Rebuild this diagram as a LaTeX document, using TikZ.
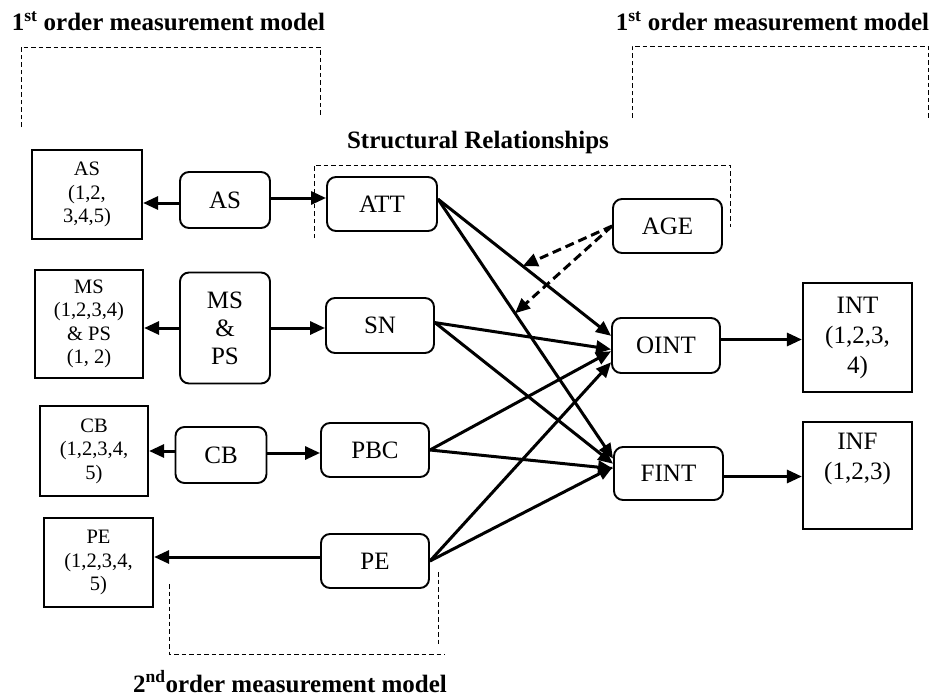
\documentclass[tikz,border=0pt]{standalone}
\usepackage{fontspec}
\setmainfont{Liberation Serif}
\usetikzlibrary{arrows.meta,calc}

\begin{document}
\begin{tikzpicture}[x=1pt,y=-1pt,
  box/.style={draw, line width=2.2pt, inner sep=0pt, align=center,
    font=\fontsize{20.5}{23.5}\selectfont},
  bigbox/.style={box, font=\fontsize{25}{30}\selectfont},
  rnd/.style={draw, line width=1.9pt, rounded corners=9pt, inner sep=0pt,
    align=center, font=\fontsize{25}{28}\selectfont,
    minimum width=108pt, minimum height=55pt},
  conn/.style={line width=3pt, -{Triangle[length=15pt,width=13pt]}},
  modconn/.style={conn, dash pattern=on 9pt off 5pt},
  bracket/.style={line width=0.8pt, dash pattern=on 4.5pt off 3pt},
  title/.style={font=\fontsize{25}{28}\selectfont\bfseries, inner sep=0pt, anchor=base}
]
\useasboundingbox (0,0) rectangle (936,698);

% headings
\node[title] (t1) at (168.5,31) {1\textsuperscript{st} order measurement model};
\node[title] (t2) at (772.5,31) {1\textsuperscript{st} order measurement model};
\node[title] (t3) at (478,148) {Structural Relationships};
\node[title] (t4) at (290,692) {2\textsuperscript{nd}order measurement model};

% dashed brackets
\draw[bracket] (21,127) -- (21,47) -- (320,47) -- (320,118);
\draw[bracket] (632,118) -- (632,46) -- (928,46) -- (928,118);
\draw[bracket] (314,238) -- (314,165) -- (730,165) -- (730,227);
\draw[bracket] (169,584) -- (169,654) -- (445,654);
\draw[bracket] (438,572) -- (438,645);

% indicator boxes
\node[box, minimum width=110pt, minimum height=89pt] (ASb) at (87,194.5) {AS\\(1,2,\\3,4,5)};
\node[box, minimum width=108pt, minimum height=108pt] (MSb) at (89,324) {MS\\(1,2,3,4)\\\&{} PS\\(1, 2)};
\node[box, minimum width=108pt, minimum height=90pt] (CBb) at (94,451) {CB\\(1,2,3,4,\\5)};
\node[box, minimum width=109pt, minimum height=89pt] (PEb) at (98.5,562.5) {PE\\(1,2,3,4,\\5)};
\node[bigbox, minimum width=109pt, minimum height=109pt] (INTb) at (857.5,337.5) {INT\\(1,2,3,\\4)};
\node[bigbox, minimum width=109pt, minimum height=107pt] (INFb) at (857.5,475.5) {INF\\(1,2,3)\\\strut};

% latent constructs
\node[rnd, minimum width=90pt, minimum height=56pt] (ASr) at (225,200) {AS};
\node[rnd, minimum width=90pt, minimum height=111pt] (MSr) at (225,328) {MS\\\&\\PS};
\node[rnd, minimum width=91pt, minimum height=56pt] (CBr) at (221,455) {CB};
\node[rnd, minimum width=110pt, minimum height=54pt] (ATT) at (382,204) {ATT};
\node[rnd] (SN) at (380,325.5) {SN};
\node[rnd, minimum height=54pt] (PBC) at (375,450) {PBC};
\node[rnd, minimum height=54pt] (PE) at (375,561) {PE};
\node[rnd, minimum width=109pt, minimum height=54pt] (AGE) at (667.5,226) {AGE};
\node[rnd] (OINT) at (666,345.5) {OINT};
\node[rnd, minimum width=109pt, minimum height=53pt] (FINT) at (668.5,473.5) {FINT};

% measurement links
\draw[conn] ([yshift=-3pt]ASr.west) -- ([yshift=-3pt]ASr.west -| ASb.east);
\draw[conn] (MSr.west) -- (MSr.west -| MSb.east);
\draw[conn] ([yshift=4pt]CBr.west) -- ([yshift=4pt]CBr.west -| CBb.east);
\draw[conn] ([yshift=4pt]PE.west) -- ([yshift=4pt]PE.west -| PEb.east);
\draw[conn] ([yshift=2pt]ASr.east) -- ([yshift=2pt]ASr.east -| ATT.west);
\draw[conn] (MSr.east) -- (MSr.east -| SN.west);
\draw[conn] ([yshift=2pt]CBr.east) -- ([yshift=2pt]CBr.east -| PBC.west);
\draw[conn] ([yshift=6pt]OINT.east) -- ([yshift=6pt]OINT.east -| INTb.west);
\draw[conn] ([yshift=-3pt]FINT.east) -- ([yshift=-3pt]FINT.east -| INFb.west);

% structural paths
\draw[conn] (ATT.5) -- coordinate[pos=0.49] (mA) (OINT.170);
\draw[conn] (ATT.5) -- coordinate[pos=0.44] (mB) (FINT.165);
\draw[conn] (SN.3) -- (OINT.184);
\draw[conn] (SN.3) -- (FINT.170);
\draw[conn] (PBC.east) -- (OINT.186);
\draw[conn] (PBC.east) -- (FINT.175);
\draw[conn] (PE.east) -- (OINT.197);
\draw[conn] (PE.east) -- (FINT.173);

% moderating effects of age
\draw[modconn] (AGE.west) -- (mA);
\draw[modconn] (AGE.west) -- (mB);
\end{tikzpicture}
\end{document}
